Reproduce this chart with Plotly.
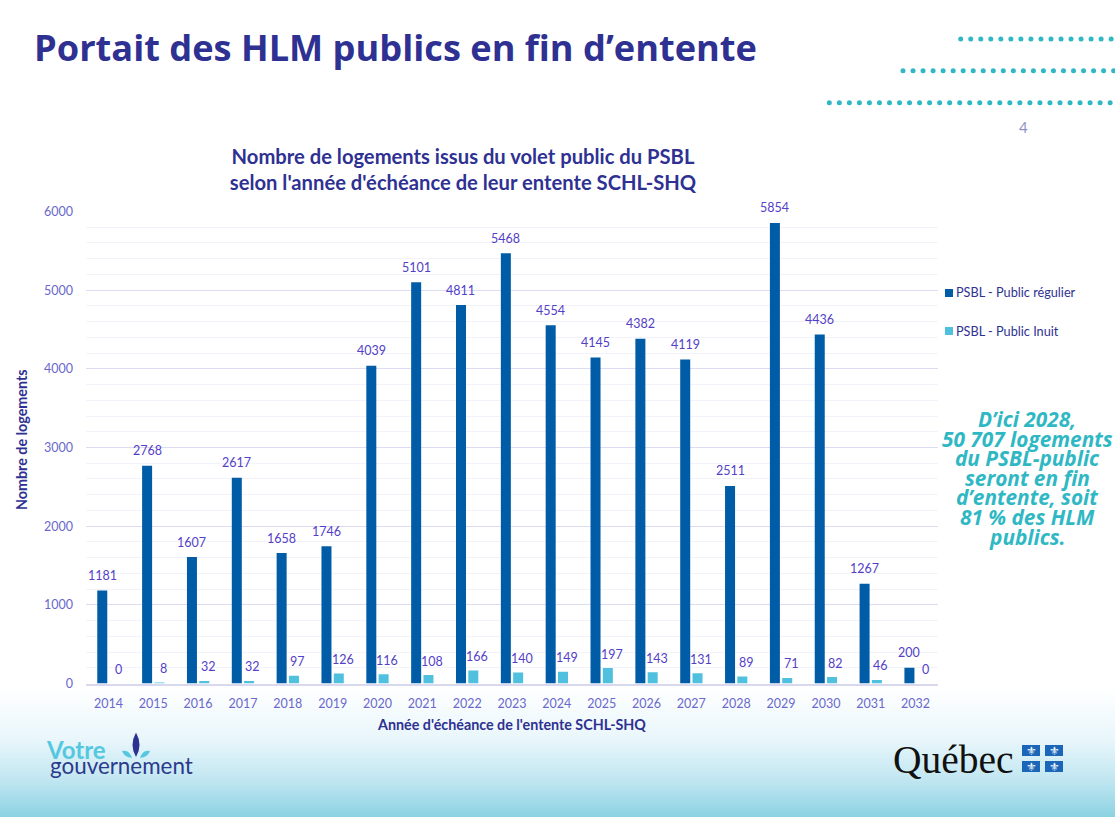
import plotly.graph_objects as go

W, H = 1115, 817

years = ["2014", "2015", "2016", "2017", "2018", "2019", "2020", "2021", "2022", "2023",
         "2024", "2025", "2026", "2027", "2028", "2029", "2030", "2031", "2032"]
public_regulier = [1181, 2768, 1607, 2617, 1658, 1746, 4039, 5101, 4811, 5468,
                   4554, 4145, 4382, 4119, 2511, 5854, 4436, 1267, 200]
public_inuit = [0, 8, 32, 32, 97, 126, 116, 108, 166, 140,
                149, 197, 143, 131, 89, 71, 82, 46, 0]
callout_lines = ["D’ici 2028,", "50 707 logements", "du PSBL-public", "seront en fin",
                 "d’entente, soit", "81 % des HLM", "publics."]

NAVY = "#2e3192"
PURPLE = "#5240c8"
TICK = "#6a68cc"
TEAL = "#2fb8c4"
DARK = "#005ca6"
LIGHT = "#4fc1de"
FONT = "Lato"


def px(x):
    return x / W


def py(y):
    return 1 - y / H


def rect(x0, y0, x1, y1, color, layer="above"):
    return dict(type="rect", xref="paper", yref="paper", x0=px(x0), x1=px(x1), y0=py(y0), y1=py(y1),
                fillcolor=color, line_width=0, layer=layer)


def circle(cx, cy, r, color):
    return dict(type="circle", xref="paper", yref="paper", x0=px(cx - r), x1=px(cx + r),
                y0=py(cy - r), y1=py(cy + r), fillcolor=color, line_width=0, layer="below")


def blob(points, color):
    d = f"M{px(points[0][0])},{py(points[0][1])}"
    for i in range(1, len(points) - 1, 2):
        c, e = points[i], points[i + 1]
        d += f" Q{px(c[0])},{py(c[1])} {px(e[0])},{py(e[1])}"
    return dict(type="path", xref="paper", yref="paper", path=d + " Z", fillcolor=color, line_width=0, layer="above")


def text(x, y, s, size, color, family=FONT, anchor="center", **kw):
    return dict(xref="paper", yref="paper", x=px(x), y=py(y), text=s, showarrow=False,
                xanchor=anchor, yanchor="middle", font=dict(family=family, size=size, color=color), **kw)


def lerp_color(y):
    stops = [(688, (255, 255, 255)), (740, (232, 246, 251)), (780, (192, 230, 241)), (817, (138, 210, 226))]
    for (a, ca), (b, cb) in zip(stops, stops[1:]):
        if a <= y <= b:
            t = (y - a) / (b - a)
            return "rgb(%d,%d,%d)" % tuple(round(p + (q - p) * t) for p, q in zip(ca, cb))
    return "#ffffff"


shapes = [rect(0, y, W, y + 1.5, lerp_color(y), "below") for y in range(688, H)]
for start, cy in [(960.7, 39), (903, 70.7), (829.3, 102.7)]:
    x = start
    while x < W + 3:
        shapes.append(circle(x, cy, 2.5, TEAL))
        x += 10.03

# manual legend swatches
shapes += [rect(945, 289, 953, 297, DARK), rect(945, 327, 953, 335, LIGHT)]

# Votre gouvernement mark
shapes += [
    blob([(136, 732.5), (143, 745), (136, 757), (129, 745), (136, 732.5)], NAVY),
    blob([(122, 751), (129, 749), (132, 758), (124, 757), (122, 751)], "#55c8e0"),
    blob([(150, 751), (143, 749), (140, 758), (148, 757), (150, 751)], "#55c8e0"),
]
# Quebec flag
flag_cells = [(1022, 745), (1045, 745), (1022, 761), (1045, 761)]
shapes += [rect(x, y, x + 18, y + 11, "#1b66b8") for x, y in flag_cells]

annotations = [
    text(32, 47, "<b>Portait des HLM publics en fin d’entente</b>", 36.2, NAVY, "Open Sans", "left"),
    text(1023, 127, "4", 15, "#8f93c4"),
    text(954, 292, "PSBL - Public régulier", 12.7, NAVY, FONT, "left"),
    text(954, 331, "PSBL - Public Inuit", 12.7, NAVY, FONT, "left"),
    text(44, 749, "<b>Votre</b>", 24, "#55c8e0", "Lato", "left"),
    text(48, 765, "gouvernement", 22.4, "#2c3a8c", "Lato", "left"),
    text(891, 760, "Québec", 39.5, "#111111", "Liberation Serif", "left"),
    text(21, 440, "<b>Nombre de logements</b>", 14.3, NAVY, FONT, textangle=-90),
]
for x, y in flag_cells:
    annotations.append(text(x + 9, y + 5.5, "⚜", 12, "#ffffff", "DejaVu Sans"))
for i, line in enumerate(callout_lines):
    annotations.append(text(1027, 419 + i * 19.6, f"<b><i>{line}</i></b>", 20.8, TEAL, "Open Sans"))

for i, v in enumerate(public_regulier):
    annotations.append(dict(x=i, y=v, xref="x", yref="y", text=str(v), showarrow=False,
                            xshift=-6.2, yshift=15, font=dict(family=FONT, size=12.5, color=PURPLE)))
for i, v in enumerate(public_inuit):
    annotations.append(dict(x=i, y=v, xref="x", yref="y", text=str(v), showarrow=False,
                            xshift=10, yshift=14, font=dict(family=FONT, size=12.5, color=PURPLE)))

fig = go.Figure()
fig.add_bar(x=years, y=public_regulier, name="PSBL - Public régulier", marker=dict(color=DARK, line_width=0))
fig.add_bar(x=years, y=public_inuit, name="PSBL - Public Inuit", marker=dict(color=LIGHT, line_width=0))

fig.update_layout(
    width=W, height=H, autosize=False,
    margin=dict(l=0, r=0, t=0, b=0, autoexpand=False),
    paper_bgcolor="white", plot_bgcolor="rgba(0,0,0,0)",
    showlegend=False,
    barmode="group", bargap=0.451, bargroupgap=0.187,
    font=dict(family=FONT, size=12, color=TICK),
    title=dict(text="<b>Nombre de logements issus du volet public du PSBL<br>selon l'année d'échéance de leur entente SCHL-SHQ</b>",
               x=463 / W, xanchor="center", y=py(164), yanchor="middle",
               font=dict(family=FONT, size=20.2, color=NAVY)),
    shapes=shapes,
    annotations=annotations,
    xaxis=dict(domain=[px(86), px(938)], type="category", range=[-0.5, 18.5], showgrid=False, ticks="",
               showline=True, linecolor="#d8d8ef", linewidth=1.5,
               tickfont=dict(family=FONT, size=12.5, color=TICK),
               ticklabelstandoff=8, zeroline=False,
               title=dict(text="<b>Année d'échéance de l'entente SCHL-SHQ</b>", standoff=10,
                          font=dict(family=FONT, size=14.3, color=NAVY))),
    yaxis=dict(domain=[py(683.5), py(211.5)], range=[0, 6000], dtick=1000, showgrid=True,
               gridcolor="#dcdcf2", gridwidth=1.2, zeroline=False, ticks="", showline=False,
               minor=dict(dtick=200, showgrid=True, gridcolor="#f2f2fb", gridwidth=1),
               tickfont=dict(family=FONT, size=12.5, color=TICK), ticklabelstandoff=12),
)

fig.write_html("out.html", config={"displayModeBar": False},
               post_script="document.body.style.margin='0';")
